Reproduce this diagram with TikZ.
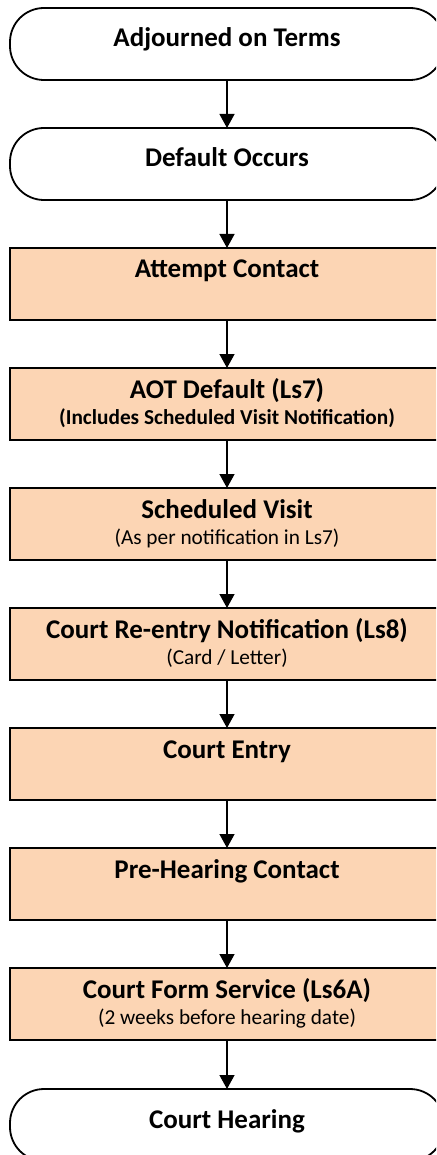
\documentclass[tikz,border=0pt]{standalone}
\usepackage{fontspec}
\setmainfont{Carlito}
\usetikzlibrary{arrows.meta}
\definecolor{peach}{RGB}{252,213,180}
\begin{document}
\begin{tikzpicture}[x=1pt,y=-1pt,
  procbox/.style={draw=black, line width=1.8pt, fill=peach, minimum width=434pt, minimum height=72pt, inner sep=0pt, outer sep=0pt},
  termbox/.style={draw=black, line width=1.8pt, fill=white, rounded corners=34pt, minimum width=434pt, minimum height=72pt, inner sep=0pt, outer sep=0pt},
  maintext/.style={anchor=base, font=\fontsize{27}{31}\selectfont\bfseries, inner sep=0pt},
  subtext/.style={anchor=base, font=\fontsize{21.3}{26}\selectfont, inner sep=0pt},
  subbold/.style={anchor=base, font=\fontsize{21.3}{26}\selectfont\bfseries, inner sep=0pt},
  flow/.style={line width=1.3pt, -{Triangle[width=15pt,length=14pt]}}]
\path[use as bounding box, clip] (0,0) rectangle (436,1155);
\fill[white] (0,0) rectangle (436,1155);

\node[termbox] (b1) at (227,44) {};
\node[termbox] (b2) at (227,164) {};
\node[procbox] (b3) at (227,284) {};
\node[procbox] (b4) at (227,404) {};
\node[procbox] (b5) at (227,524) {};
\node[procbox] (b6) at (227,644) {};
\node[procbox] (b7) at (227,764) {};
\node[procbox] (b8) at (227,884) {};
\node[procbox] (b9) at (227,1004) {};
\node[termbox] (b10) at (227,1125) {};

\node[maintext, yshift=-39pt] (t1) at (b1.north) {Adjourned on Terms};
\node[maintext, yshift=-39pt] (t2) at (b2.north) {Default Occurs};
\node[maintext, yshift=-30pt] (t3) at (b3.north) {Attempt Contact};
\node[maintext, yshift=-30pt] (t4) at (b4.north) {AOT Default (Ls7)};
\node[subbold, yshift=-56pt] (s4) at (b4.north) {(Includes Scheduled Visit Notification)};
\node[maintext, yshift=-30pt] (t5) at (b5.north) {Scheduled Visit};
\node[subtext, yshift=-56pt] (s5) at (b5.north) {(As per notification in Ls7)};
\node[maintext, yshift=-30pt] (t6) at (b6.north) {Court Re-entry Notification (Ls8)};
\node[subtext, yshift=-56pt] (s6) at (b6.north) {(Card / Letter)};
\node[maintext, yshift=-30pt] (t7) at (b7.north) {Court Entry};
\node[maintext, yshift=-30pt] (t8) at (b8.north) {Pre-Hearing Contact};
\node[maintext, yshift=-30pt] (t9) at (b9.north) {Court Form Service (Ls6A)};
\node[subtext, yshift=-56pt] (s9) at (b9.north) {(2 weeks before hearing date)};
\node[maintext, yshift=-39pt] (t10) at (b10.north) {Court Hearing};

\draw[flow] (b1.south) -- (b2.north);
\draw[flow] (b2.south) -- (b3.north);
\draw[flow] (b3.south) -- (b4.north);
\draw[flow] (b4.south) -- (b5.north);
\draw[flow] (b5.south) -- (b6.north);
\draw[flow] (b6.south) -- (b7.north);
\draw[flow] (b7.south) -- (b8.north);
\draw[flow] (b8.south) -- (b9.north);
\draw[flow] (b9.south) -- (b10.north);
\end{tikzpicture}
\end{document}
